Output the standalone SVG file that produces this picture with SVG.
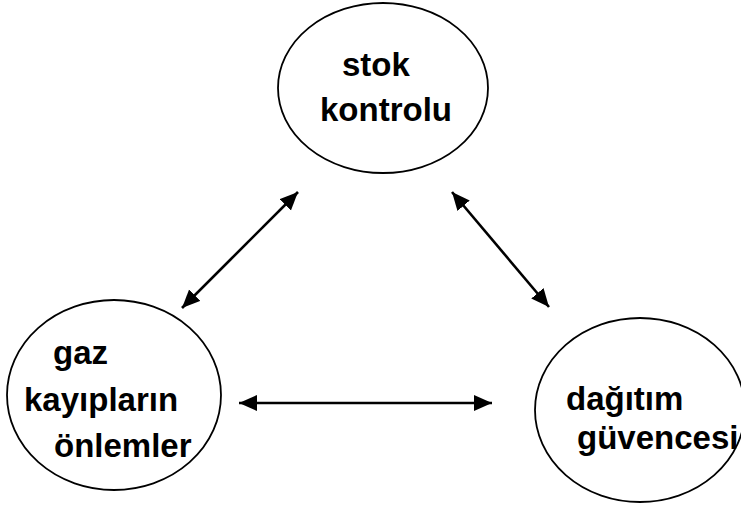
<svg xmlns="http://www.w3.org/2000/svg" width="741" height="508" viewBox="0 0 741 508">
<style>
.node ellipse{fill:#fff;stroke:#000;stroke-width:1.8}
.node text{font-family:"Liberation Sans",Arial,sans-serif;font-weight:bold;font-size:33px;fill:#000}
.conn line{stroke:#000;stroke-width:2.6}
</style>
<defs>
<marker id="ah" markerUnits="userSpaceOnUse" markerWidth="20" markerHeight="18" refX="18" refY="8" orient="auto-start-reverse">
<path d="M0,0 L18,8 L0,16 z" fill="#000"/>
</marker>
</defs>
<rect width="741" height="508" fill="#fff"/>
<g id="n-stok" class="node">
<ellipse cx="383" cy="88" rx="105" ry="85"/>
<text x="342" y="76">stok</text>
<text x="320" y="121">kontrolu</text>
</g>
<g id="n-gaz" class="node">
<ellipse cx="114" cy="395" rx="107" ry="95"/>
<text x="53" y="364">gaz</text>
<text x="24" y="411">kayıpların</text>
<text x="54" y="457">önlemler</text>
</g>
<g id="n-dagitim" class="node">
<ellipse cx="640" cy="410" rx="105" ry="92"/>
<text x="566" y="410">dağıtım</text>
<text x="577" y="449">güvencesi</text>
</g>
<g id="connectors" class="conn">
<line x1="182" y1="308" x2="298" y2="192" marker-start="url(#ah)" marker-end="url(#ah)"/>
<line x1="452" y1="192" x2="549" y2="307" marker-start="url(#ah)" marker-end="url(#ah)"/>
<line x1="239" y1="403" x2="492" y2="403" marker-start="url(#ah)" marker-end="url(#ah)"/>
</g>
</svg>
